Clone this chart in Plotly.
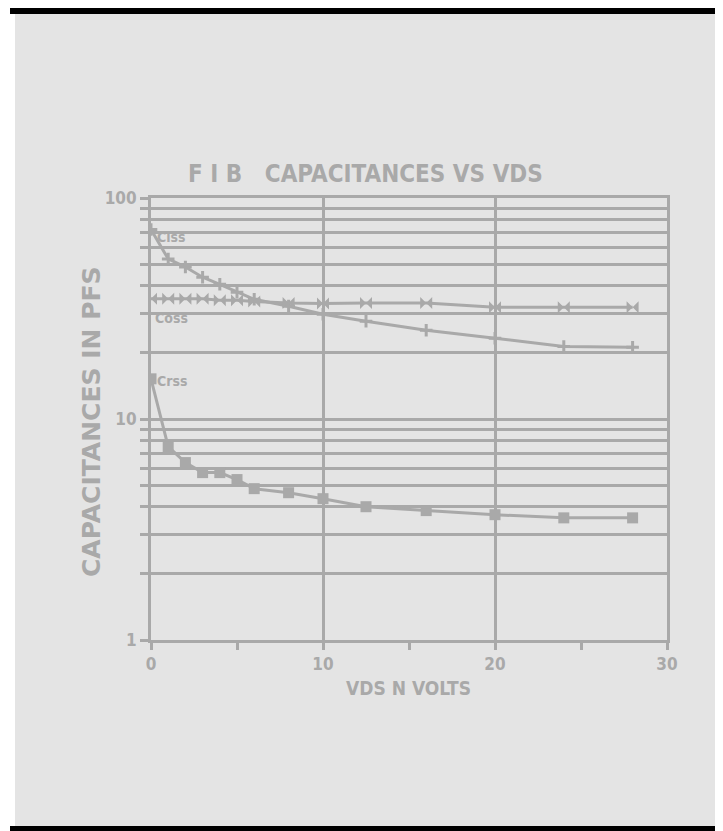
import plotly.graph_objects as go

# ---- data ----
vds = [0, 1, 2, 3, 4, 5, 6, 8, 10, 12.5, 16, 20, 24, 28]
ciss = [72, 53, 48.7, 43.8, 40.7, 37.5, 34.8, 32.4, 29.8, 27.7, 25.2, 23.2, 21.3, 21.1]
coss = [35, 35, 35, 35, 34.5, 34.5, 34, 33.5, 33.3, 33.5, 33.5, 32, 32, 32]
crss = [15.2, 7.5, 6.35, 5.72, 5.72, 5.32, 4.84, 4.64, 4.36, 4.01, 3.85, 3.69, 3.57, 3.57]

x_ticks = [0, 10, 20, 30]
y_grid = [1, 2, 3, 4, 5, 6, 7, 8, 9, 10, 20, 30, 40, 50, 60, 70, 80, 90, 100]
y_labels = {1: "1", 10: "10", 100: "100"}

title_text = "F I B &nbsp;&nbsp;CAPACITANCES VS VDS"
x_title = "VDS N VOLTS"
y_title = "CAPACITANCES IN PFS"

GRAY = "#a9a9a9"
BG = "#e4e4e4"
FONT = "DejaVu Sans Condensed, Liberation Sans Narrow, DejaVu Sans, sans-serif"

OFF = 8  # page body margin in the browser
W, H = 723 - OFF, 831 - OFF
L, R, T, B = 151 - OFF, 667 - OFF, 198 - OFF, 640 - OFF  # plot area in figure pixels


def px(xp):
    """page x pixel -> paper x"""
    return (xp - OFF - L) / (R - L)


def py(yp):
    """page y pixel -> paper y"""
    return (B - (yp - OFF)) / (B - T)


fig = go.Figure()

fig.add_trace(go.Scatter(x=vds, y=ciss, mode="lines+markers", name="Ciss",
                         line=dict(color=GRAY, width=3),
                         marker=dict(symbol="cross-thin", size=9,
                                     line=dict(color=GRAY, width=3), color=GRAY)))
fig.add_trace(go.Scatter(x=vds, y=coss, mode="lines+markers", name="Coss",
                         line=dict(color=GRAY, width=3),
                         marker=dict(symbol="bowtie", size=12, color=GRAY)))
fig.add_trace(go.Scatter(x=vds, y=crss, mode="lines+markers", name="Crss",
                         line=dict(color=GRAY, width=3),
                         marker=dict(symbol="square", size=11, color=GRAY)))

shapes = [
    dict(type="rect", xref="paper", yref="paper", x0=px(15), x1=px(721), y0=py(14), y1=py(826),
         fillcolor=BG, line=dict(width=0), layer="below"),
    dict(type="rect", xref="paper", yref="paper", x0=px(10), x1=px(723), y0=py(0), y1=py(14),
         fillcolor="black", line=dict(width=0), layer="below"),
    dict(type="rect", xref="paper", yref="paper", x0=px(10), x1=px(723), y0=py(826), y1=py(831),
         fillcolor="black", line=dict(width=0), layer="below"),
]

annotations = [
    dict(text=title_text, x=px(365), y=py(174), xref="paper", yref="paper", showarrow=False,
         font=dict(family=FONT, size=24, color=GRAY, weight="bold"), xanchor="center", yanchor="middle"),
    dict(text=x_title, x=px(408), y=py(688), xref="paper", yref="paper", showarrow=False,
         font=dict(family=FONT, size=19, color=GRAY, weight="bold"), xanchor="center", yanchor="middle"),
    dict(text=y_title, x=px(91), y=py(422), xref="paper", yref="paper", showarrow=False, textangle=-90,
         font=dict(family="DejaVu Sans, sans-serif", size=25, color=GRAY, weight="bold"),
         xanchor="center", yanchor="middle"),
    dict(text="Ciss", x=0.25, y=1.823, xref="x", yref="y", showarrow=False, xanchor="left", yanchor="middle",
         font=dict(family=FONT, size=14, color=GRAY, weight="bold")),
    dict(text="Coss", x=0.1, y=1.457, xref="x", yref="y", showarrow=False, xanchor="left", yanchor="middle",
         font=dict(family=FONT, size=14, color=GRAY, weight="bold")),
    dict(text="Crss", x=0.25, y=1.172, xref="x", yref="y", showarrow=False, xanchor="left", yanchor="middle",
         font=dict(family=FONT, size=14, color=GRAY, weight="bold")),
]

fig.update_layout(
    width=W, height=H,
    margin=dict(l=L, r=W - R, t=T, b=H - B, pad=0),
    paper_bgcolor="white", plot_bgcolor="rgba(0,0,0,0)",
    showlegend=False,
    shapes=shapes, annotations=annotations,
    font=dict(family=FONT, color=GRAY),
)

fig.update_xaxes(
    range=[0, 30], tickvals=x_ticks, ticktext=[str(v) for v in x_ticks],
    showgrid=True, gridcolor=GRAY, gridwidth=3,
    showline=True, linecolor=GRAY, linewidth=3, mirror=True,
    ticks="outside", ticklen=7, tickwidth=3, tickcolor=GRAY,
    minor=dict(dtick=5, tick0=0, ticks="outside", ticklen=7, tickwidth=3, tickcolor=GRAY, showgrid=False),
    tickfont=dict(family=FONT, size=17, color=GRAY, weight="bold"),
    zeroline=False,
)
fig.update_yaxes(
    type="log", range=[0, 2],
    tickvals=y_grid, ticktext=[y_labels.get(v, "") for v in y_grid],
    showgrid=True, gridcolor=GRAY, gridwidth=3,
    showline=True, linecolor=GRAY, linewidth=3, mirror=True,
    ticks="outside", ticklen=8, tickwidth=3, tickcolor=GRAY,
    tickfont=dict(family=FONT, size=17, color=GRAY, weight="bold"),
    zeroline=False,
)

fig.write_html("out.html")
